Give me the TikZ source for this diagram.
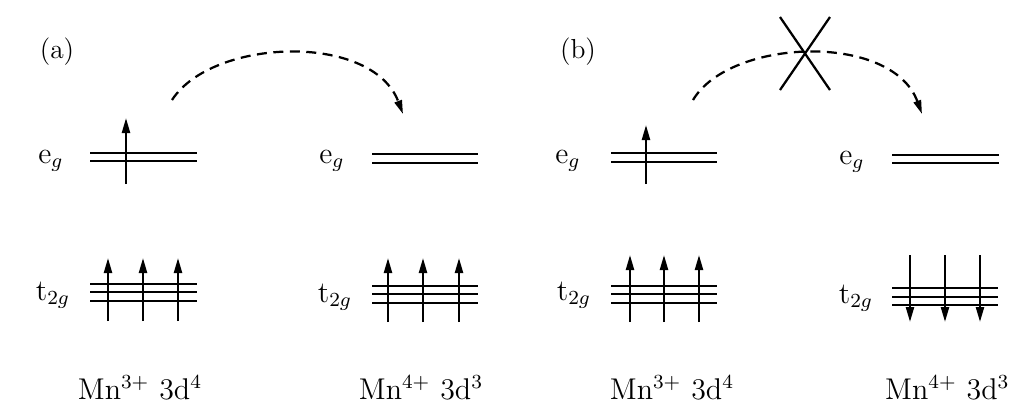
\documentclass[tikz,border=0pt]{standalone}
\usetikzlibrary{arrows.meta}
\begin{document}
\begin{tikzpicture}[x=0.4pt,y=-0.4pt,
  level/.style={line width=0.9pt},
  spin/.style={line width=0.9pt,-{Triangle[length=6pt,width=3.2pt]}},
  hop/.style={line width=0.9pt,dash pattern=on 4pt off 2.6pt,-{Triangle[length=5.5pt,width=3pt]}},
  lbl/.style={inner sep=0pt,font=\fontsize{12}{14}\selectfont},
  big/.style={inner sep=0pt,font=\fontsize{11}{13}\selectfont},
  mn/.style={inner sep=0pt,font=\fontsize{12}{14}\selectfont}]
\useasboundingbox (0,0) rectangle (1016,409);
% ---------- panel (a)
\node[big] (pa) at (57,52) {(a)};
\node[lbl,anchor=base] (ega1) at (51,163) {e$_g$};
\draw[level] (90,153) -- (197,153) (90,161) -- (197,161);
\coordinate (ea1b) at (126,184);
\coordinate (ea1t) at (126,118);
\draw[spin] (ea1b) -- (ea1t);
\node[lbl,anchor=base] (ega2) at (332,163) {e$_g$};
\draw[level] (372,154) -- (478,154) (372,163) -- (478,163);
\coordinate (hsa) at (172,100);
\coordinate (hea) at (403,114);
\draw[hop] (hsa) .. controls (212,38) and (372,32) .. (hea);
\node[lbl,anchor=base] (tga1) at (53,300) {t$_{2g}$};
\draw[level] (90,284) -- (197,284) (90,292) -- (197,292) (90,301) -- (197,301);
\foreach \x [count=\i] in {108,143,178}{
  \coordinate (ta\i b) at (\x,321);
  \coordinate (ta\i t) at (\x,258);
  \draw[spin] (ta\i b) -- (ta\i t);
}
\node[lbl,anchor=base] (tga2) at (335,302) {t$_{2g}$};
\draw[level] (372,286) -- (478,286) (372,294) -- (478,294) (372,303) -- (478,303);
\foreach \x [count=\i] in {388,423,459}{
  \coordinate (tb\i b) at (\x,322);
  \coordinate (tb\i t) at (\x,258);
  \draw[spin] (tb\i b) -- (tb\i t);
}
\node[mn,anchor=base] (mna1) at (140,399) {Mn$^{3+}$\ 3d$^4$};
\node[mn,anchor=base] (mna2) at (421,399) {Mn$^{4+}$\ 3d$^3$};
% ---------- panel (b)
\node[big] (pb) at (578,52) {(b)};
\node[lbl,anchor=base] (egb1) at (568,163) {e$_g$};
\draw[level] (611,153) -- (717,153) (611,162) -- (717,162);
\coordinate (eb1b) at (646,184);
\coordinate (eb1t) at (646,125);
\draw[spin] (eb1b) -- (eb1t);
\node[lbl,anchor=base] (egb2) at (852,164) {e$_g$};
\draw[level] (892,155) -- (999,155) (892,163) -- (999,163);
\coordinate (hsb) at (693,100);
\coordinate (heb) at (922,114);
\draw[hop] (hsb) .. controls (730,38) and (892,32) .. (heb);
\coordinate (x1) at (780,17);
\coordinate (x2) at (830,90);
\coordinate (x3) at (830,17);
\coordinate (x4) at (780,90);
\draw[line width=0.9pt] (x1) -- (x2) (x3) -- (x4);
\node[lbl,anchor=base] (tgb1) at (574,300) {t$_{2g}$};
\draw[level] (611,286) -- (717,286) (611,294) -- (717,294) (611,303) -- (717,303);
\foreach \x [count=\i] in {630,664,699}{
  \coordinate (tc\i b) at (\x,322);
  \coordinate (tc\i t) at (\x,255);
  \draw[spin] (tc\i b) -- (tc\i t);
}
\node[lbl,anchor=base] (tgb2) at (856,303) {t$_{2g}$};
\draw[level] (892,288) -- (998,288) (892,297) -- (998,297) (892,305) -- (998,305);
\foreach \x [count=\i] in {910,945,980}{
  \coordinate (td\i t) at (\x,255);
  \coordinate (td\i b) at (\x,322);
  \draw[spin] (td\i t) -- (td\i b);
}
\node[mn,anchor=base east] (mnb2) at (1010,399) {Mn$^{4+}$\ 3d$^3$};
\node[mn,anchor=base] (mnb1) at (672,399) {Mn$^{3+}$\ 3d$^4$};
\end{tikzpicture}
\end{document}
